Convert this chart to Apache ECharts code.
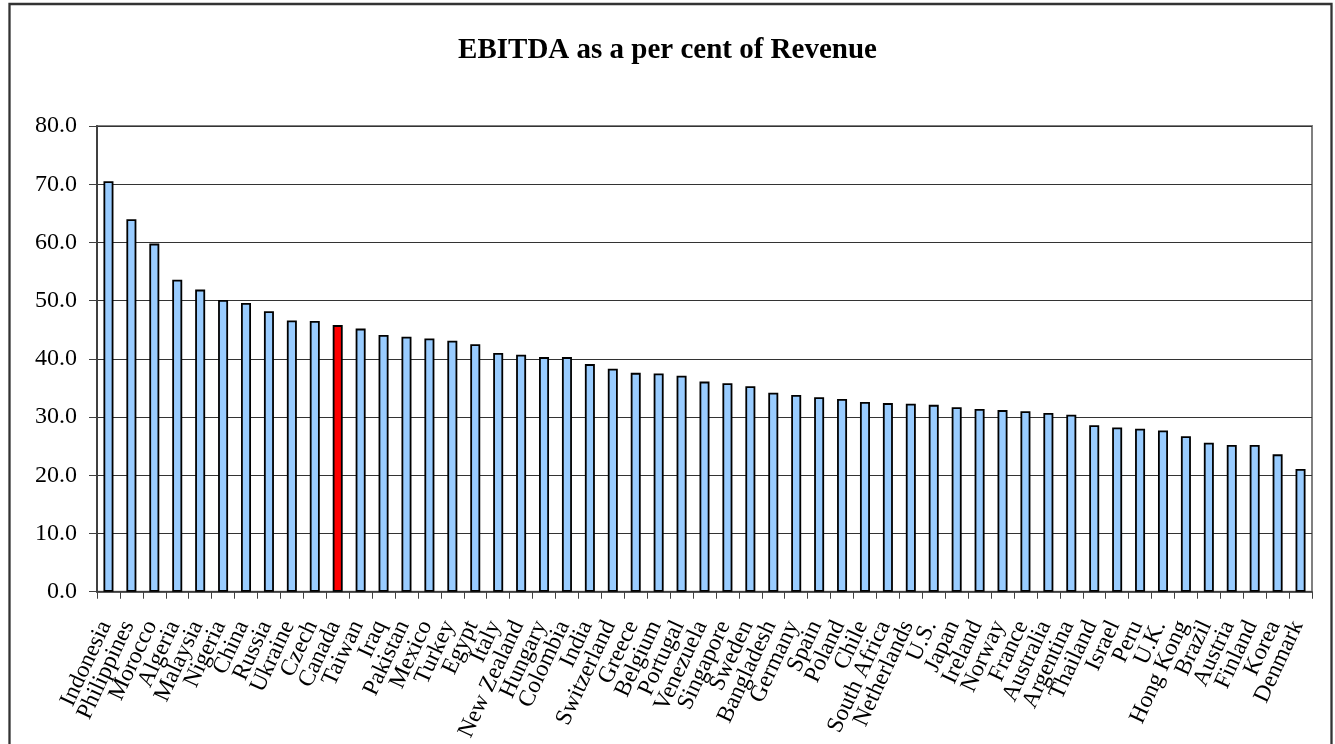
<!DOCTYPE html>
<html>
<head>
<meta charset="utf-8">
<title>EBITDA as a per cent of Revenue</title>
<script src="https://cdn.jsdelivr.net/npm/echarts@6/dist/echarts.min.js"></script>
<style>
  html, body { margin: 0; padding: 0; background: #fff; }
  #chart { width: 1335px; height: 744px; }
</style>
</head>
<body>
<div id="chart"></div>
<script>
// Countries, sorted by EBITDA margin (descending)
const countries = [
  'Indonesia', 'Philippines', 'Morocco', 'Algeria', 'Malaysia', 'Nigeria', 'China',
  'Russia', 'Ukraine', 'Czech', 'Canada', 'Taiwan', 'Iraq', 'Pakistan', 'Mexico',
  'Turkey', 'Egypt', 'Italy', 'New Zealand', 'Hungary', 'Colombia', 'India',
  'Switzerland', 'Greece', 'Belgium', 'Portugal', 'Venezuela', 'Singapore', 'Sweden',
  'Bangladesh', 'Germany', 'Spain', 'Poland', 'Chile', 'South Africa', 'Netherlands',
  'U.S.', 'Japan', 'Ireland', 'Norway', 'France', 'Australia', 'Argentina', 'Thailand',
  'Israel', 'Peru', 'U.K.', 'Hong Kong', 'Brazil', 'Austria', 'Finland', 'Korea', 'Denmark'
];

// EBITDA as a per cent of revenue
const ebitdaPct = [
  70.5, 64.0, 59.8, 53.6, 51.9, 50.1, 49.6,
  48.2, 46.6, 46.5, 45.8, 45.2, 44.1, 43.8, 43.5,
  43.1, 42.5, 41.0, 40.7, 40.3, 40.3, 39.1,
  38.3, 37.6, 37.5, 37.1, 36.1, 35.8, 35.3,
  34.2, 33.8, 33.4, 33.1, 32.6, 32.4, 32.3,
  32.1, 31.7, 31.4, 31.2, 31.0, 30.7, 30.4, 28.6,
  28.2, 28.0, 27.7, 26.7, 25.6, 25.2, 25.2, 23.6, 21.1
];

// Value axis ticks
const yTicks = [0, 10, 20, 30, 40, 50, 60, 70, 80];

// Highlighted country
const highlight = 'Canada';

const serif = "'Liberation Serif', 'Times New Roman', serif";

const chart = echarts.init(document.getElementById('chart'), null, { renderer: 'canvas' });

chart.setOption({
  backgroundColor: '#ffffff',
  animation: false,
  title: {
    text: 'EBITDA as a per cent of Revenue',
    left: 'center',
    top: 31,
    textStyle: { fontFamily: serif, fontSize: 29, fontWeight: 'bold', color: '#000' }
  },
  graphic: [{
    type: 'rect',
    shape: { x: 9.5, y: 4, width: 1322, height: 800 },
    style: { fill: 'none', stroke: '#333', lineWidth: 2.3 },
    silent: true,
    z: 100
  }],
  grid: {
    left: 97, right: 23, top: 126, bottom: 151.5,
    show: true,
    borderColor: '#808080',
    borderWidth: 2,
    backgroundColor: 'transparent'
  },
  xAxis: {
    type: 'category',
    data: countries,
    boundaryGap: true,
    axisLine: { show: true, lineStyle: { color: '#404040', width: 1.5 } },
    axisTick: { show: true, length: 7, lineStyle: { color: '#404040', width: 1 } },
    axisLabel: {
      interval: 0,
      rotate: 65,
      margin: 24,
      padding: [0, 7, 6, 0],
      fontFamily: serif,
      fontSize: 23.5,
      color: '#000'
    },
    splitLine: { show: false }
  },
  yAxis: {
    type: 'value',
    min: yTicks[0],
    max: yTicks[yTicks.length - 1],
    interval: yTicks[1] - yTicks[0],
    axisLine: { show: true, lineStyle: { color: '#404040', width: 2 } },
    axisTick: { show: true, length: 8, lineStyle: { color: '#404040', width: 1 } },
    axisLabel: {
      margin: 20,
      fontFamily: serif,
      fontSize: 24,
      color: '#000',
      formatter: v => v.toFixed(1)
    },
    splitLine: { show: true, lineStyle: { color: '#333', width: 1.2 } }
  },
  series: [{
    type: 'bar',
    data: ebitdaPct.map((v, i) => ({
      value: v,
      itemStyle: { color: countries[i] === highlight ? '#ff0000' : '#99ccff' }
    })),
    barWidth: 10,
    itemStyle: { borderColor: '#000', borderWidth: 1.8 },
    label: { show: false }
  }]
});
</script>
</body>
</html>
